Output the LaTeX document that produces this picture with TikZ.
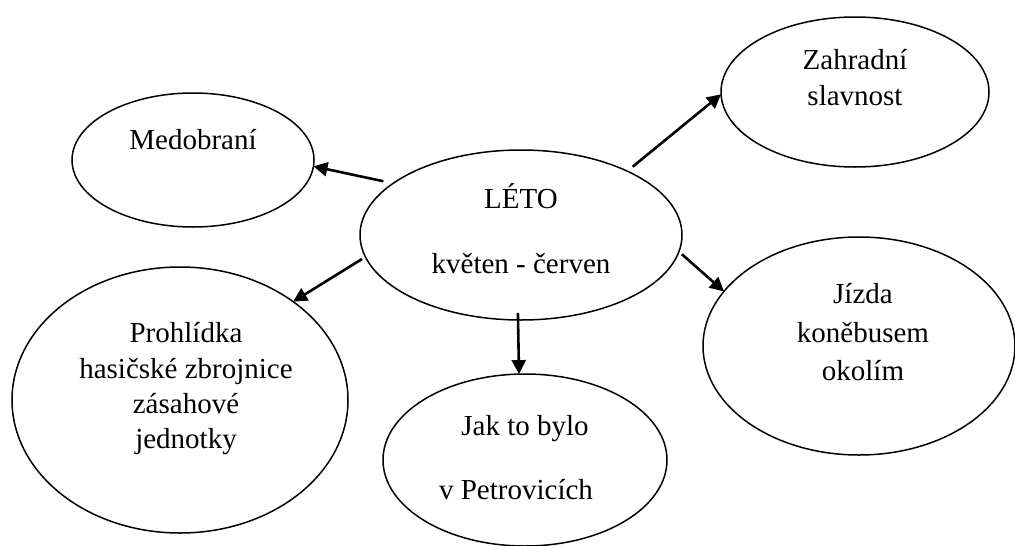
\documentclass[tikz,border=0pt]{standalone}
\usepackage{fontspec}
\setmainfont{Liberation Serif}
\usetikzlibrary{shapes.geometric,arrows.meta}
\begin{document}
\begin{tikzpicture}[x=1pt,y=-1pt,
  bubble/.style={draw,ellipse,line width=1.5pt,inner sep=0pt,outer sep=0pt},
  lbl/.style={anchor=base,inner sep=0pt,font=\fontsize{29}{35}\selectfont},
  arr/.style={line width=2.6pt,-{Triangle[length=14pt,width=14pt]}}]
\useasboundingbox (0,0) rectangle (1015,546);
% ellipses
\node[bubble,minimum width=322pt,minimum height=170pt] (leto) at (521,235) {};
\node[bubble,minimum width=242pt,minimum height=134pt] (med) at (193,160) {};
\node[bubble,minimum width=268pt,minimum height=150pt] (zah) at (855,92) {};
\node[bubble,minimum width=312pt,minimum height=218pt] (jiz) at (859,346) {};
\node[bubble,minimum width=336pt,minimum height=266pt] (pro) at (180,400) {};
\node[bubble,minimum width=284pt,minimum height=172pt] (jak) at (525,460) {};
% texts
\node[lbl] (letoA) at (521,208) {LÉTO};
\node[lbl] (letoB) at (521,273) {květen - červen};
\node[lbl] (medA) at (193,149) {Medobraní};
\node[lbl] (zahA) at (855,69) {Zahradní};
\node[lbl] (zahB) at (855,105) {slavnost};
\node[lbl] (jizA) at (863,303) {Jízda};
\node[lbl] (jizB) at (863,342) {koněbusem};
\node[lbl] (jizC) at (863,380) {okolím};
\node[lbl] (proA) at (186,342) {Prohlídka};
\node[lbl] (proB) at (186,378) {hasičské zbrojnice};
\node[lbl] (proC) at (186,413) {zásahové};
\node[lbl] (proD) at (186,448) {jednotky};
\node[lbl] (jakA) at (525,435) {Jak to bylo};
\node[lbl] (jakB) at (516,499) {v Petrovicích};
% arrows
\draw[arr,shorten <=10pt] (leto.158) -- (med.-3);
\draw[arr,shorten <=7pt] (leto.31.5) -- (zah.181.7);
\draw[arr,shorten <=4pt] (leto.-172.9) -- (pro.41.8);
\draw[arr,shorten <=4pt] (leto.-6.7) -- (jiz.158.9);
\draw[arr,shorten <=-7pt] (leto.-92.2) -- (jak.94.7);
\end{tikzpicture}
\end{document}
